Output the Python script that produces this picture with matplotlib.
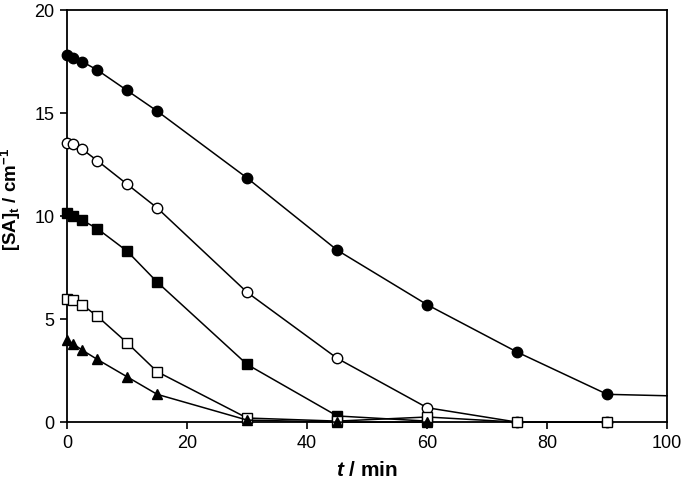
from matplotlib import pyplot as plt
import numpy as np

plt.rcParams['font.family'] = ['Liberation Sans', 'DejaVu Sans']
plt.rcParams['mathtext.fontset'] = 'custom'
plt.rcParams['mathtext.rm'] = 'Liberation Sans:bold'
plt.rcParams['mathtext.bf'] = 'Liberation Sans:bold'
plt.rcParams['mathtext.it'] = 'Liberation Sans:bold:italic'
plt.rcParams['mathtext.default'] = 'bf'

# %% Data

t_fc = [0, 1, 2.5, 5, 10, 15, 30, 45, 60, 75, 90, 100]
sa_fc = [17.8, 17.7, 17.5, 17.1, 16.1, 15.1, 11.85, 8.35, 5.7, 3.4, 1.35, 1.28]

t_oc = [0, 1, 2.5, 5, 10, 15, 30, 45, 60, 75, 90]
sa_oc = [13.55, 13.5, 13.25, 12.7, 11.55, 10.4, 6.3, 3.1, 0.7, 0.0, 0.0]

t_fs = [0, 1, 2.5, 5, 10, 15, 30, 45, 60]
sa_fs = [10.15, 10.0, 9.8, 9.4, 8.3, 6.8, 2.8, 0.3, 0.05]

t_os = [0, 1, 2.5, 5, 10, 15, 30, 45, 60, 75, 90]
sa_os = [6.0, 5.95, 5.7, 5.15, 3.85, 2.45, 0.2, 0.05, 0.25, 0.0, 0.0]

t_tr = [0, 1, 2.5, 5, 10, 15, 30, 45, 60]
sa_tr = [4.0, 3.8, 3.5, 3.05, 2.2, 1.35, 0.1, 0.0, 0.0]

# %% Plot

fig = plt.figure(figsize=(6.85, 4.83), dpi=100)
ax = fig.add_axes([0.098, 0.126, 0.876, 0.853])

kw = dict(color='k', lw=1.1, mec='k', mew=1.0, clip_on=False, zorder=3)
ax.plot(t_fc, sa_fc, marker='o', ms=7.5, mfc='k', markevery=list(range(len(t_fc) - 1)), **kw)
ax.plot(t_oc, sa_oc, marker='o', ms=7.5, mfc='w', **kw)
ax.plot(t_fs, sa_fs, marker='s', ms=7.5, mfc='k', **kw)
ax.plot(t_os, sa_os, marker='s', ms=7.5, mfc='w', **kw)
ax.plot(t_tr, sa_tr, marker='^', ms=7.5, mfc='k', **kw)

ax.set_xlim(0, 100)
ax.set_ylim(0, 20)
ax.set_xticks(np.arange(0, 101, 20))
ax.set_yticks(np.arange(0, 21, 5))
ax.tick_params(direction='out', length=5, width=1.2, labelsize=13, pad=4)
for s in ax.spines.values():
    s.set_linewidth(1.3)

ax.set_xlabel(r'$\mathit{t}$ / min', fontsize=15, fontweight='bold', labelpad=7)
ax.set_ylabel(r'[SA]$_\mathbf{t}$ / cm$^\mathbf{-1}$', fontsize=13.5, fontweight='bold')
ax.yaxis.set_label_coords(-0.074, 0.54)

plt.savefig('out.png', dpi=100)
